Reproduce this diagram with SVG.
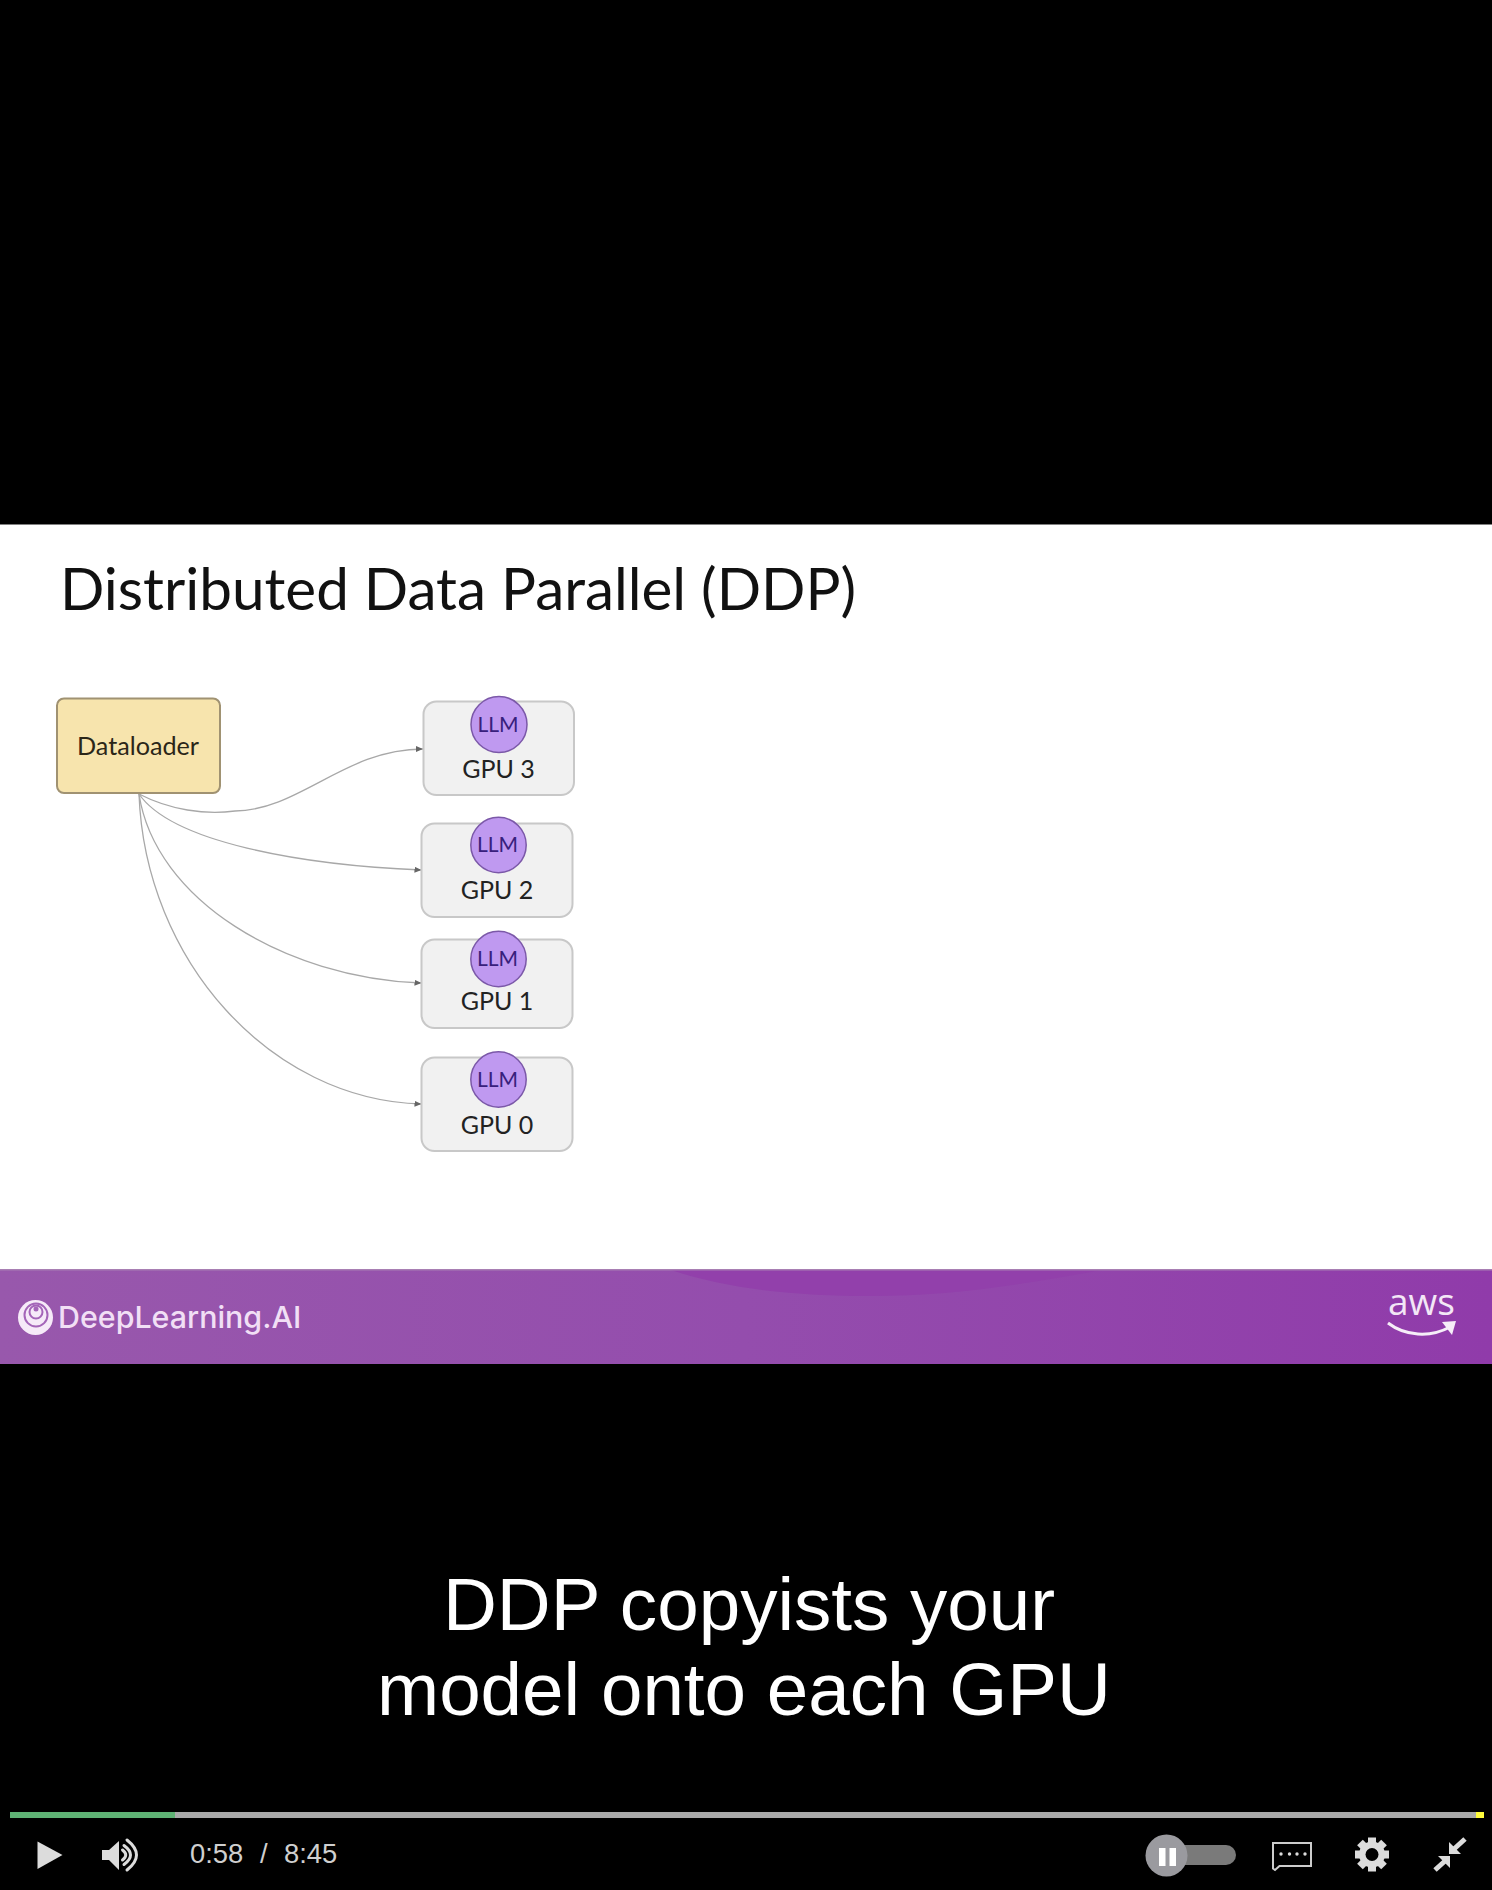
<svg xmlns="http://www.w3.org/2000/svg" width="1492" height="1890" viewBox="0 0 1492 1890">
<style>
.lato{font-family:"Lato","Open Sans","Liberation Sans",sans-serif}
.gpu{fill:#f1f1f1;stroke:#c8c8c8;stroke-width:2}
.llm{fill:#bf99f0;stroke:#7b58a8;stroke-width:1.5}
.llmt{font-size:21px;fill:#38207c;text-anchor:middle}
.gput{font-size:25px;fill:#222;text-anchor:middle}
.edge{fill:none;stroke:#a8a8a8;stroke-width:1.3;marker-end:url(#arr)}
.cap{font-family:"Liberation Sans",Arial,sans-serif;font-size:74.6px;fill:#fff}
.time{font-family:"Liberation Sans",Arial,sans-serif;font-size:27.4px;fill:#cfcfcf}
.ic{fill:#dcdcdc}
.icl{fill:none;stroke:#dcdcdc;stroke-width:3;stroke-linecap:round}
</style>
<defs>
<marker id="arr" markerUnits="userSpaceOnUse" markerWidth="8" markerHeight="6" refX="7" refY="3" orient="auto"><path d="M0 0L7 3L0 6Z" fill="#666"/></marker>
<linearGradient id="band" x1="0" x2="1" y1="0" y2="0"><stop offset="0" stop-color="#9858ac"/><stop offset=".5" stop-color="#944dad"/><stop offset="1" stop-color="#903baa"/></linearGradient>
</defs>
<rect width="1492" height="1890" fill="#000"/>
<rect y="524.5" width="1492" height="745.5" fill="#fff"/>
<text class="lato" x="60" y="610" font-size="58.4" fill="#111">Distributed Data Parallel (DDP)</text>
<g id="connectors">
<path class="edge" d="M139 794C170 810 205 815 235 811C300 810 345 749 423 749"/>
<path class="edge" d="M139 794C172 842 300 865 421.5 870"/>
<path class="edge" d="M139 794C155 900 285 978 421.5 983"/>
<path class="edge" d="M139 794C145 960 270 1100 421.5 1104"/>
</g>
<g id="dataloader"><rect x="57" y="698.5" width="163" height="94.5" rx="7" fill="#f7e4ad" stroke="#a09272" stroke-width="2"/><text class="lato" x="138" y="755" font-size="25.2" fill="#2b2618" text-anchor="middle">Dataloader</text></g>
<g id="gpu3"><rect class="gpu" x="423.5" y="701.5" width="150.5" height="93.5" rx="13"/><circle class="llm" cx="499" cy="724.5" r="28"/><text class="lato llmt" x="498" y="731.5">LLM</text><text class="lato gput" x="498.5" y="778">GPU 3</text></g>
<g id="gpu2"><rect class="gpu" x="421.5" y="823.5" width="151" height="93.5" rx="13"/><circle class="llm" cx="498.5" cy="845" r="27.7"/><text class="lato llmt" x="497.5" y="852">LLM</text><text class="lato gput" x="497" y="899">GPU 2</text></g>
<g id="gpu1"><rect class="gpu" x="421.5" y="939.5" width="151" height="88.5" rx="13"/><circle class="llm" cx="498.5" cy="959" r="27.7"/><text class="lato llmt" x="497.5" y="966">LLM</text><text class="lato gput" x="497" y="1010">GPU 1</text></g>
<g id="gpu0"><rect class="gpu" x="421.5" y="1057.5" width="151" height="93.5" rx="13"/><circle class="llm" cx="498.5" cy="1079.5" r="27.7"/><text class="lato llmt" x="497.5" y="1086.5">LLM</text><text class="lato gput" x="497" y="1134">GPU 0</text></g>
<rect y="1269" width="1492" height="95" fill="url(#band)"/>
<path d="M671 1270C730 1290 800 1296 870 1296C950 1296 1020 1285 1102 1270Z" fill="#9240ab"/>
<rect y="1269" width="1492" height="1.5" fill="#a87fb3"/>
<circle cx="35.5" cy="1317.5" r="17.5" fill="#f6eaf8"/>
<circle cx="36" cy="1315" r="11.5" fill="none" stroke="#a465b8" stroke-width="2"/>
<circle cx="36" cy="1312" r="6.5" fill="none" stroke="#a465b8" stroke-width="2"/>
<circle cx="36" cy="1309" r="2.5" fill="#a465b8"/>
<text x="58" y="1328" font-family="Inter,'Open Sans',sans-serif" font-size="30.4" font-weight="500" fill="#f1dff5">DeepLearning.AI</text>
<text x="1388" y="1315" font-family="'Open Sans','Noto Sans',sans-serif" font-size="37" font-weight="500" fill="#f3e7f6">aws</text>
<path d="M1388 1323C1405 1336 1430 1338 1450 1327" fill="none" stroke="#f6eef8" stroke-width="3"/>
<path d="M1442 1322L1456 1321L1452 1335Z" fill="#f6eef8"/>
<text class="cap" x="443" y="1630">DDP copyists your</text>
<text class="cap" x="377" y="1715">model onto each GPU</text>
<rect x="10" y="1812" width="1466" height="6" fill="#a9a9a9"/>
<rect x="10" y="1812" width="165" height="6" fill="#5fb274"/>
<rect x="1476" y="1812" width="8" height="6" fill="#fffb3c"/>
<path class="ic" d="M37.5 1841.5L62.5 1855L37.5 1869Z"/>
<path class="ic" d="M102 1850H109L119 1841V1870L109 1860H102Z"/>
<path class="icl" d="M122.5 1850Q129 1855 122.5 1860"/>
<path class="icl" d="M124 1845.5Q137 1855 124 1864.5"/>
<path class="icl" d="M127 1840Q146 1855 127 1870"/>
<text class="time" x="190" y="1863">0:58</text>
<text class="time" x="260" y="1863">/</text>
<text class="time" x="284" y="1863">8:45</text>
<rect x="1146" y="1845" width="90" height="20" rx="10" fill="#7a7a7a"/>
<circle cx="1166.5" cy="1855.5" r="21" fill="#9a9a9f"/>
<rect x="1159" y="1848" width="6.5" height="18" fill="#fff"/>
<rect x="1169.5" y="1848" width="6.5" height="18" fill="#fff"/>
<path d="M1273 1868.5V1843H1311V1866H1279.5L1275 1870Z" fill="none" stroke="#cccccc" stroke-width="2"/>
<g fill="#dcdcdc"><circle cx="1281" cy="1854" r="1.7"/><circle cx="1289.5" cy="1854" r="1.7"/><circle cx="1297" cy="1854" r="1.7"/><circle cx="1305" cy="1854" r="1.7"/></g>
<g class="ic">
<circle cx="1372" cy="1854.5" r="13"/>
<rect x="1368" y="1837.5" width="8" height="34"/>
<rect x="1368" y="1837.5" width="8" height="34" transform="rotate(45 1372 1854.5)"/>
<rect x="1368" y="1837.5" width="8" height="34" transform="rotate(90 1372 1854.5)"/>
<rect x="1368" y="1837.5" width="8" height="34" transform="rotate(135 1372 1854.5)"/>
</g>
<circle cx="1372" cy="1854.5" r="6.5" fill="#000"/>
<path class="ic" d="M1449 1854V1842L1461 1854Z"/>
<path class="ic" d="M1450 1856H1438L1450 1868Z"/>
<path d="M1454 1849L1465 1839M1445 1861L1435 1870" stroke="#dcdcdc" stroke-width="5" fill="none"/>
</svg>
